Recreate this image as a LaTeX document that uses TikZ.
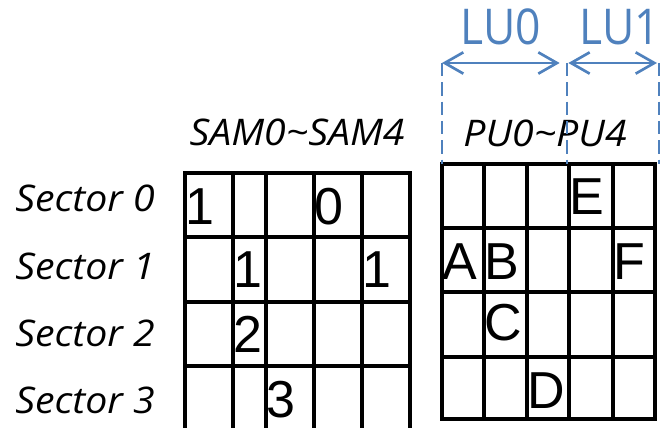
\documentclass[tikz,border=0pt]{standalone}
\usepackage{fontspec}
\usepackage{xcolor}
\usetikzlibrary{arrows.meta,positioning}
\setmainfont{Liberation Sans}
\newfontfamily\opensans{Open Sans}[FakeStretch=1.07]
\newfontfamily\lufont{Open Sans}[FakeStretch=0.9]
\definecolor{lublue}{HTML}{4F81BD}

\tikzset{
    gridline/.style={line width=2.8pt, line cap=rect},
    cellmark/.style={anchor=base west, inner sep=0pt, font=\fontsize{39}{44}\selectfont},
    sectorlabel/.style={anchor=base west, inner sep=0pt, font=\opensans\itshape\fontsize{27.5}{32}\selectfont},
    grouplabel/.style={anchor=base, inner sep=0pt, font=\opensans\itshape\fontsize{27.5}{32}\selectfont},
    lulabel/.style={anchor=base, inner sep=0pt, text=lublue, font=\lufont\fontsize{37}{42}\selectfont},
    lubound/.style={lublue, line width=2pt, dash pattern=on 10pt off 4.5pt},
    luspan/.style={lublue, line width=2pt, {Straight Barb[length=14pt,width=16pt]}-{Straight Barb[length=14pt,width=16pt]}},
}

\begin{document}
\begin{tikzpicture}[x=0.75pt, y=-0.75pt]
\useasboundingbox (0,0) rectangle (662,428);

% sector names
\node[sectorlabel] (sec0) at (15,212) {Sector 0};
\node[sectorlabel] (sec1) at (15,280) {Sector 1};
\node[sectorlabel] (sec2) at (15,347) {Sector 2};
\node[sectorlabel] (sec3) at (15,413) {Sector 3};

% left grid: SAM0~SAM4
\node[grouplabel] (sam) at (297,146) {SAM0\textasciitilde SAM4};
\foreach \x in {185,233,266,314,362,410}
    \draw[gridline] (\x,173) -- (\x,432);
\foreach \y in {173,237,302,366,430}
    \draw[gridline] (185,\y) -- (410,\y);
\node[cellmark] (s00) at (185,225) {1};
\node[cellmark] (s03) at (314,225) {0};
\node[cellmark] (s11) at (233,288) {1};
\node[cellmark] (s14) at (362,288) {1};
\node[cellmark] (s21) at (233,353) {2};
\node[cellmark] (s32) at (266,417) {3};

% right grid: PU0~PU4
\node[grouplabel] (pu) at (545,147) {PU0\textasciitilde PU4};
\foreach \x in {442,484,527,569,613,655}
    \draw[gridline] (\x,164) -- (\x,419);
\foreach \y in {164,228,292,357,419}
    \draw[gridline] (442,\y) -- (655,\y);
\node[cellmark] (pE) at (569,215) {E};
\node[cellmark] (pA) at (442,280) {A};
\node[cellmark] (pB) at (484,280) {B};
\node[cellmark] (pF) at (613,280) {F};
\node[cellmark] (pC) at (484,341) {C};
\node[cellmark] (pD) at (527,408) {D};

% logical units
\coordinate (lu0a) at (442,63);
\coordinate (lu0b) at (567,63);
\coordinate (lu1b) at (659,63);
\coordinate (lu0aend) at (442,164);
\coordinate (lu0bend) at (567,164);
\coordinate (lu1bend) at (659,164);
\draw[lubound] (lu0a) -- (lu0aend);
\draw[lubound] (lu0b) -- (lu0bend);
\draw[lubound] (lu1b) -- (lu1bend);
\draw[luspan] (lu0a) -- ([xshift=-5.5pt]lu0b);
\draw[luspan] ([xshift=1pt]lu0b) -- ([xshift=-1.5pt]lu1b);
\node[lulabel] (lu0) at (501,45) {LU0};
\node[lulabel] (lu1) at (620,45) {LU1};
\end{tikzpicture}
\end{document}
